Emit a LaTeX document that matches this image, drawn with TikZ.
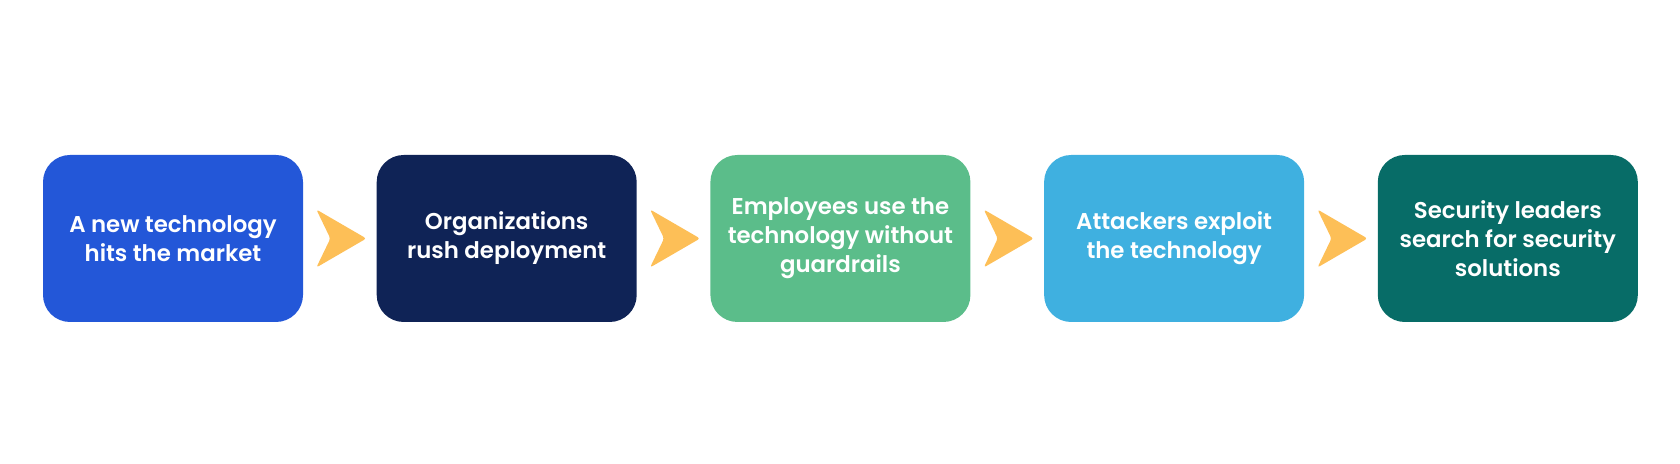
\documentclass[tikz,border=0pt]{standalone}
\usepackage{fontspec}
\setmainfont{Poppins}[BoldFont={Poppins SemiBold}]
\usetikzlibrary{positioning,calc}
\definecolor{stageblue}{HTML}{2357D8}
\definecolor{stagenavy}{HTML}{0F2356}
\definecolor{stagegreen}{HTML}{5BBD8A}
\definecolor{stagesky}{HTML}{3FB0E0}
\definecolor{stageteal}{HTML}{076C67}
\definecolor{chevronyellow}{HTML}{FDBF57}
\tikzset{
 stage/.style={rounded corners=0.54cm, minimum width=5.2cm, minimum height=3.34cm,
  align=center, text=white, inner sep=0pt,
  font=\fontsize{13}{16.5}\selectfont\bfseries},
 chevron/.style={fill=chevronyellow, rounded corners=1.5pt}
}
\begin{document}
\begin{tikzpicture}
 \useasboundingbox (0,0) rectangle (33.6,9.28);
 \node[stage,fill=stageblue] (tech) at (3.46,4.51) {A new technology\\hits the market};
 \node[stage,fill=stagenavy,right=1.46cm of tech] (rush) {Organizations\\rush deployment};
 \node[stage,fill=stagegreen,right=1.46cm of rush] (guard) {Employees use the\\technology without\\guardrails};
 \node[stage,fill=stagesky,right=1.46cm of guard] (exploit) {Attackers exploit\\the technology};
 \node[stage,fill=stageteal,right=1.46cm of exploit] (search) {Security leaders\\search for security\\solutions};
 % chevrons between the stages
 \foreach \a/\b in {tech/rush,rush/guard,guard/exploit,exploit/search}
  \fill[chevron] ($(\a.east)!0.5!(\b.west)$) ++(-0.47,0.58) -- ++(1.0,-0.58) -- ++(-1.0,-0.58) -- ++(0.28,0.58) -- cycle;
\end{tikzpicture}
\end{document}
